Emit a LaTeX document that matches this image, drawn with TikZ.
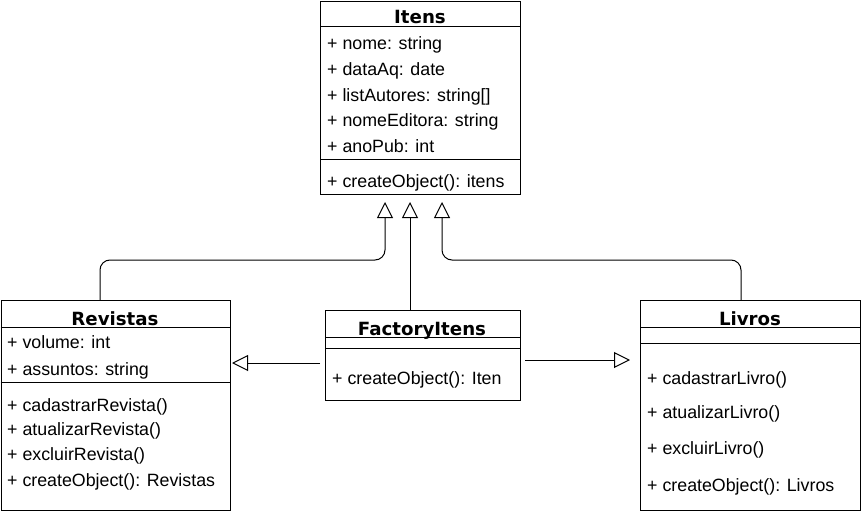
\documentclass[tikz,border=0pt]{standalone}
\usepackage{fontspec}
\setmainfont{Liberation Sans}
\newfontfamily\titlefont{DejaVu Sans}
\usetikzlibrary{arrows.meta,calc}
\begin{document}
\begin{tikzpicture}[x=1pt,y=1pt,
  box/.style={draw, line width=1pt, anchor=north west, inner sep=0pt},
  sep/.style={line width=1pt},
  attr/.style={anchor=west, inner sep=0pt, font=\fontsize{17.8}{20}\selectfont, text height=12.5pt, text depth=3.5pt},
  title/.style={anchor=center, inner sep=0pt, font=\titlefont\bfseries\fontsize{18.2}{20}\selectfont, text height=13pt, text depth=3pt},
  gen/.style={line width=1pt, -{Triangle[open, length=16pt, width=16pt, fill=white]}, rounded corners=10pt}]
\useasboundingbox (0,0) rectangle (862,-511);
% boxes
\node[box, minimum width=200pt, minimum height=193pt] (itens) at (320,-1) {};
\node[box, minimum width=229.5pt, minimum height=210pt] (revistas) at (0.5,-300) {};
\node[box, minimum width=195pt, minimum height=90pt] (factory) at (325,-310) {};
\node[box, minimum width=220pt, minimum height=210pt] (livros) at (640,-300) {};
% separators
\draw[sep] (itens.west |- 0,-27) -- (itens.east |- 0,-27);
\draw[sep] (itens.west |- 0,-159) -- (itens.east |- 0,-159);
\draw[sep] (revistas.west |- 0,-327) -- (revistas.east |- 0,-327);
\draw[sep] (revistas.west |- 0,-382) -- (revistas.east |- 0,-382);
\draw[sep] (factory.west |- 0,-337) -- (factory.east |- 0,-337);
\draw[sep] (factory.west |- 0,-348) -- (factory.east |- 0,-348);
\draw[sep] (livros.west |- 0,-327) -- (livros.east |- 0,-327);
\draw[sep] (livros.west |- 0,-343) -- (livros.east |- 0,-343);
% Itens
\node[title] (itens-t) at (420,-19) {Itens};
\node[attr] (itens-a1) at (327,-44.5) {+ nome: string};
\node[attr] (itens-a2) at (327,-70.5) {+ dataAq: date};
\node[attr] (itens-a3) at (327,-96.5) {+ listAutores: string[]};
\node[attr] (itens-a4) at (327,-121.5) {+ nomeEditora: string};
\node[attr] (itens-a5) at (327,-147.5) {+ anoPub: int};
\node[attr] (itens-m1) at (327,-182.5) {+ createObject(): itens};
% Revistas
\node[title] (rev-t) at (115,-320) {Revistas};
\node[attr] (rev-a1) at (7,-343.5) {+ volume: int};
\node[attr] (rev-a2) at (7,-370.5) {+ assuntos: string};
\node[attr] (rev-m1) at (7,-406.5) {+ cadastrarRevista()};
\node[attr] (rev-m2) at (7,-430.5) {+ atualizarRevista()};
\node[attr] (rev-m3) at (7,-455.5) {+ excluirRevista()};
\node[attr] (rev-m4) at (7,-481.5) {+ createObject(): Revistas};
% FactoryItens
\node[title] (fac-t) at (422,-330) {FactoryItens};
\node[attr] (fac-m1) at (332,-379.5) {+ createObject(): Iten};
% Livros
\node[title] (liv-t) at (750,-320) {Livros};
\node[attr] (liv-m1) at (647,-379.5) {+ cadastrarLivro()};
\node[attr] (liv-m2) at (647,-413.5) {+ atualizarLivro()};
\node[attr] (liv-m3) at (647,-449.5) {+ excluirLivro()};
\node[attr] (liv-m4) at (647,-486.5) {+ createObject(): Livros};
% connectors
\coordinate (t1) at (385,-202);
\coordinate (t2) at (410,-202);
\coordinate (t3) at (442,-202);
\coordinate (la) at (320,-363);
\coordinate (lb) at (232,-363);
\coordinate (ra) at (525,-360);
\coordinate (rb) at (630,-360);
\draw[gen] ($(revistas.north west)+(99.5,0)$) |- ([yshift=-58]t1) -- (t1);
\draw[gen] ($(factory.north west)+(85,0)$) -- (t2);
\draw[gen] ($(livros.north west)+(101,0)$) |- ([yshift=-58]t3) -- (t3);
\draw[gen] (la) -- (lb);
\draw[gen] (ra) -- (rb);
\end{tikzpicture}
\end{document}
